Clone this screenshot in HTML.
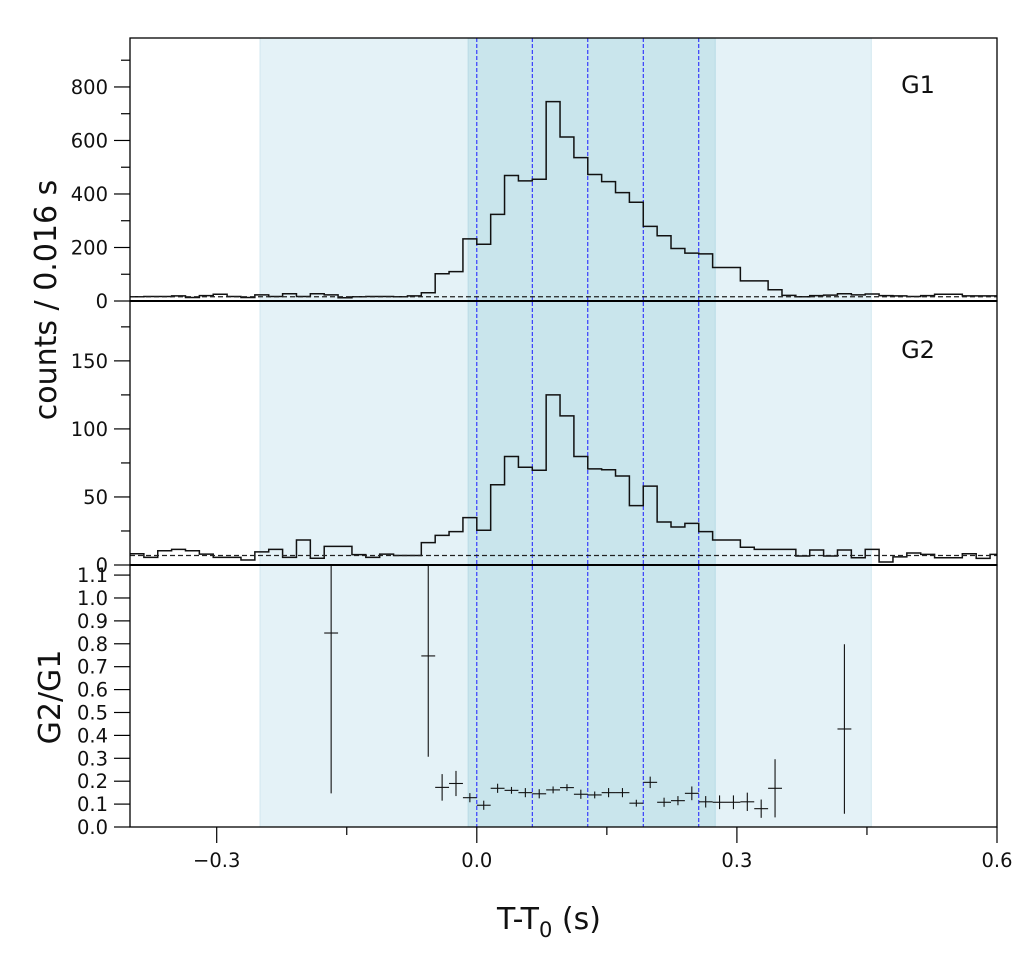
<!DOCTYPE html>
<html><head><meta charset="utf-8"><title>G1/G2 light curves</title>
<style>
html,body{margin:0;padding:0;background:#fff;}
svg{display:block;font-family:"DejaVu Sans","Liberation Sans",sans-serif;}
</style></head>
<body>
<svg id="chart" width="1034" height="965" viewBox="0 0 1034 965" xmlns="http://www.w3.org/2000/svg"></svg>
<script>
// ---- data ----
const binWidth = 0.016;
const firstBin = -25; // bin index k covers [k*0.016, (k+1)*0.016]
const g1Counts = [16,17,17,19,13,20,25,17,13,23,17,27,17,27,23,12,16,17,17,16,19,
  31,102,110,232,212,324,469,449,455,745,613,536,473,446,405,369,279,244,196,179,176,125,125,75,75,42,
  21,16,20,22,27,23,26,20,19,17,20,25,25,19,19,19];
const g2Counts = [8.3,5.6,10.5,11.5,10.5,8,5.6,5.6,3.7,9.6,11.5,5.6,18.4,5,13.7,13.7,7.6,5.6,8,7,7,
  16.4,21.8,24.5,34.8,25.5,59,79.7,71.8,69.6,125,109.6,79.7,70.6,70,65.4,43.6,58,31.6,27.9,30.6,24.5,18.4,18.4,13,11.5,11.5,
  11.5,6.6,11,6.6,11,5.3,11.5,2.2,6,8.8,7.8,5.3,5.3,8.3,4.9,7.8];
const g1Background = 16;
const g2Background = 7;
const ratioBins = [-11,-4,-3,-2,-1,0,1,2,3,4,5,6,7,8,9,10,11,12,13,14,15,16,17,18,19,20,21,26];
const ratioValues = [0.847,0.747,0.173,0.19,0.128,0.095,0.169,0.16,0.15,0.145,0.162,0.172,0.143,0.14,0.15,0.15,0.104,0.195,0.108,0.115,0.147,0.11,0.108,0.108,0.11,0.08,0.169,0.428];
const ratioErrors = [0.7,0.44,0.058,0.055,0.02,0.02,0.02,0.015,0.02,0.02,0.015,0.015,0.02,0.015,0.02,0.02,0.015,0.025,0.02,0.02,0.03,0.025,0.03,0.03,0.04,0.04,0.127,0.37];
const xTickValues = [-0.3,0.0,0.3,0.6];
const xTickLabels = ["\u22120.3","0.0","0.3","0.6"];
const xMinorTicks = [-0.15,0.15,0.45];
const g1Ticks = [0,200,400,600,800];
const g1Minor = [100,300,500,700,900];
const g2Ticks = [0,50,100,150];
const g2Minor = [25,75,125,175];
const ratioTicks = [0,0.1,0.2,0.3,0.4,0.5,0.6,0.7,0.8,0.9,1.0,1.1];
const ratioTickLabels = ["0.0","0.1","0.2","0.3","0.4","0.5","0.6","0.7","0.8","0.9","1.0","1.1"];
const outerWindow = [-0.25,0.455];
const innerWindow = [-0.01,0.275];
const intervalLines = [0,0.064,0.128,0.192,0.256];

// ---- layout ----
const L=130,R=997;
const X0=-0.4,X1=0.6;
const P1={top:38,bot:301,min:0,max:983};
const P2={top:301,bot:565,min:0,max:194};
const P3={top:565,bot:827,min:0,max:1.144};
const sx=v=>L+(v-X0)/(X1-X0)*(R-L);
const sy=(p,v)=>p.bot-(v-p.min)/(p.max-p.min)*(p.bot-p.top);
const NS="http://www.w3.org/2000/svg";
const svg=document.getElementById('chart');
function mk(tag,attrs,parent){const e=document.createElementNS(NS,tag);for(const k in attrs)e.setAttribute(k,attrs[k]);(parent||svg).appendChild(e);return e;}

// shaded windows
let e=mk('rect',{x:sx(outerWindow[0]),y:38,width:sx(outerWindow[1])-sx(outerWindow[0]),height:789,fill:'#e4f2f7',stroke:'#d2e8f0','stroke-width':1});


e=mk('rect',{x:sx(innerWindow[0]),y:38,width:sx(innerWindow[1])-sx(innerWindow[0]),height:789,fill:'#c9e5ec',stroke:'#b9dbe6','stroke-width':1});



// interval lines
intervalLines.forEach(v=>{
  const l=mk('line',{x1:sx(v),x2:sx(v),y1:38,y2:827,stroke:'#1a1aff','stroke-width':1,'stroke-dasharray':'4,2'});
  
  
});

function histo(p,counts,bg,name){
  let d='';
  counts.forEach((c,i)=>{
    const a=Math.max(X0,(firstBin+i)*binWidth), b=Math.min(X1,(firstBin+i+1)*binWidth);
    const y=sy(p,c);
    d+=(i===0?'M':'L')+sx(a)+','+y+'L'+sx(b)+','+y;
  });
  const h=mk('path',{d:d,fill:'none',stroke:'#111','stroke-width':1.5});
  
  
  const b=mk('line',{x1:L,x2:R,y1:sy(p,bg),y2:sy(p,bg),stroke:'#222','stroke-width':1.3,'stroke-dasharray':'5,3'});
  
  
}
histo(P1,g1Counts,g1Background,'g1');
histo(P2,g2Counts,g2Background,'g2');

// ratio points
ratioBins.forEach((k,i)=>{
  const a=k*binWidth,b=(k+1)*binWidth,c=(a+b)/2;
  const v=ratioValues[i],er=ratioErrors[i];
  const g=mk('g',{});
  
  
  mk('line',{x1:sx(a),x2:sx(b),y1:sy(P3,v),y2:sy(P3,v),stroke:'#111','stroke-width':1.1},g);
  mk('line',{x1:sx(c),x2:sx(c),y1:Math.max(P3.top,sy(P3,v+er)),y2:sy(P3,v-er),stroke:'#111','stroke-width':1.1},g);
});

// frames
[P1,P2,P3].forEach((p,i)=>{
  const f=mk('rect',{x:L,y:p.top,width:R-L,height:p.bot-p.top,fill:'none',stroke:'#000','stroke-width':1.3});
  
  
});
e=mk('line',{x1:L,x2:R,y1:301,y2:301,stroke:'#000','stroke-width':2});


e=mk('line',{x1:L,x2:R,y1:565,y2:565,stroke:'#000','stroke-width':2});



function ytick(p,vals,labels,len,name){
  vals.forEach((v,i)=>{
    const y=sy(p,v);
    mk('line',{x1:L-len,x2:L,y1:y,y2:y,stroke:'#000','stroke-width':1.2});
    if(labels){
      const t=mk('text',{x:L-22,y:y+7,'text-anchor':'end','font-size':19.5,fill:'#111'});
      t.textContent=labels[i];
      
      
    }
  });
}
ytick(P1,g1Ticks,g1Ticks.map(String),16,'g1-y');
ytick(P1,g1Minor.filter(v=>v<P1.max),null,9);
ytick(P2,g2Ticks,g2Ticks.map(String),16,'g2-y');
ytick(P2,g2Minor.filter(v=>v<P2.max),null,9);
ytick(P3,ratioTicks,ratioTickLabels,16,'ratio-y');

xTickValues.forEach((v,i)=>{
  mk('line',{x1:sx(v),x2:sx(v),y1:827,y2:843,stroke:'#000','stroke-width':1.2});
  const t=mk('text',{x:sx(v),y:867,'text-anchor':'middle','font-size':19.5,fill:'#111'});
  t.textContent=xTickLabels[i];
  
  
});
xMinorTicks.forEach(v=>{mk('line',{x1:sx(v),x2:sx(v),y1:827,y2:835,stroke:'#000','stroke-width':1.2});});

// labels
e=mk('text',{x:918,y:93,'text-anchor':'middle','font-size':24,fill:'#111'});e.textContent='G1';


e=mk('text',{x:918,y:358,'text-anchor':'middle','font-size':24,fill:'#111'});e.textContent='G2';


e=mk('text',{x:0,y:0,'text-anchor':'middle','font-size':30,fill:'#111',transform:'translate(56,300) rotate(-90)'});
e.textContent='counts /  0.016 s';e.setAttribute('xml:space','preserve');


e=mk('text',{x:0,y:0,'text-anchor':'middle','font-size':30,fill:'#111',transform:'translate(60,697) rotate(-90)'});
e.textContent='G2/G1';


e=mk('text',{x:549,y:929,'text-anchor':'middle','font-size':30,fill:'#111'});
e.innerHTML='T-T<tspan font-size="21" dy="8">0</tspan><tspan dy="-8"> (s)</tspan>';


</script>
</body></html>
